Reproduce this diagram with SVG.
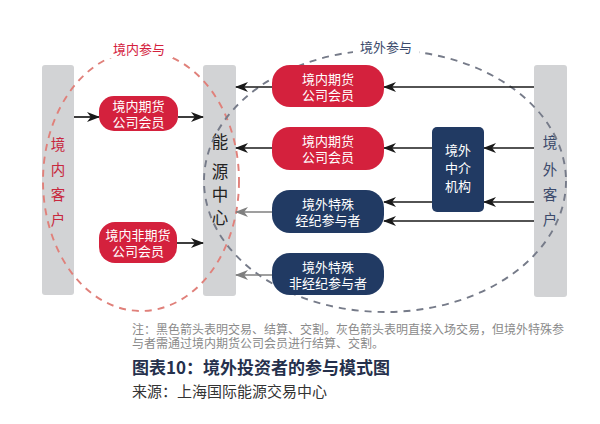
<svg xmlns="http://www.w3.org/2000/svg" width="600" height="424" viewBox="0 0 600 424">
<style>
text{font-family:"Noto Sans CJK SC","Noto Sans",sans-serif}
.bar{fill:#d2d3d5}
.red{fill:#d4213d}
.navy{fill:#213a63}
.nt{fill:#fff;font-size:13px;text-anchor:middle}
.blk{stroke:#1a1a1a;stroke-width:1.7;fill:none;marker-end:url(#ab)}
.gry{stroke:#7f7f7f;stroke-width:1.7;fill:none;marker-end:url(#ag)}
</style>
<defs>
<marker id="ab" markerUnits="userSpaceOnUse" markerWidth="13" markerHeight="11" viewBox="0 0 13 11" refX="12" refY="5.5" orient="auto"><path d="M0,0.5 L13,5.5 L0,10.5 L3.8,5.5 z" fill="#1a1a1a"/></marker>
<marker id="ag" markerUnits="userSpaceOnUse" markerWidth="13" markerHeight="11" viewBox="0 0 13 11" refX="12" refY="5.5" orient="auto"><path d="M0,0.5 L13,5.5 L0,10.5 L3.8,5.5 z" fill="#7f7f7f"/></marker>
</defs>
<rect width="600" height="424" fill="#fff"/>

<g id="bars">
<g id="domestic-client"><rect class="bar" x="42" y="65" width="32" height="230" rx="3"/>
<text x="58" y="150" font-size="14.5" fill="#c8283e" text-anchor="middle">境</text>
<text x="58" y="175" font-size="14.5" fill="#c8283e" text-anchor="middle">内</text>
<text x="58" y="200" font-size="14.5" fill="#c8283e" text-anchor="middle">客</text>
<text x="58" y="225" font-size="14.5" fill="#c8283e" text-anchor="middle">户</text></g>
<g id="ine"><rect class="bar" x="203" y="65" width="33" height="231" rx="3"/>
<text x="220" y="148" font-size="16.5" fill="#222" text-anchor="middle">能</text>
<text x="220" y="178" font-size="16.5" fill="#222" text-anchor="middle">源</text>
<text x="220" y="201" font-size="16.5" fill="#222" text-anchor="middle">中</text>
<text x="220" y="224" font-size="16.5" fill="#222" text-anchor="middle">心</text></g>
<g id="foreign-client"><rect class="bar" x="534" y="65" width="33" height="232" rx="3"/>
<text x="550" y="148" font-size="14.5" fill="#3b4a6b" text-anchor="middle">境</text>
<text x="550" y="175" font-size="14.5" fill="#3b4a6b" text-anchor="middle">外</text>
<text x="550" y="200" font-size="14.5" fill="#3b4a6b" text-anchor="middle">客</text>
<text x="550" y="225" font-size="14.5" fill="#3b4a6b" text-anchor="middle">户</text></g>
</g>

<g id="regions">
<ellipse cx="141" cy="181" rx="98" ry="130" fill="none" stroke="#e0807a" stroke-width="1.9" stroke-dasharray="7,6"/>
<ellipse cx="385" cy="181" rx="181" ry="131" fill="none" stroke="#767b89" stroke-width="1.9" stroke-dasharray="7,6"/>
<rect x="105" y="40" width="68" height="18" fill="#fff"/>
<text x="139" y="54" font-size="13" fill="#d4213d" text-anchor="middle">境内参与</text>
<rect x="353" y="38" width="66" height="18" fill="#fff"/>
<text x="386" y="52" font-size="13" fill="#3b4a6b" text-anchor="middle">境外参与</text>
</g>

<g id="connectors">
<line class="blk" x1="74" y1="117" x2="99" y2="117"/>
<line class="blk" x1="178" y1="117" x2="203" y2="117"/>
<line class="blk" x1="177" y1="243" x2="203" y2="243"/>
<line class="blk" x1="534" y1="87" x2="384" y2="87"/>
<line class="blk" x1="272" y1="87" x2="236" y2="87"/>
<line class="blk" x1="534" y1="148" x2="484" y2="148"/>
<line class="blk" x1="432" y1="148" x2="384" y2="148"/>
<line class="blk" x1="272" y1="148" x2="236" y2="148"/>
<line class="blk" x1="534" y1="202" x2="484" y2="202"/>
<line class="blk" x1="432" y1="202" x2="384" y2="202"/>
<line class="blk" x1="534" y1="221" x2="384" y2="221"/>
<line class="gry" x1="272" y1="212" x2="236" y2="212"/>
<line class="gry" x1="272" y1="275" x2="236" y2="275"/>
</g>

<g id="n-dom-fcm"><rect class="red" x="99" y="96" width="79" height="35" rx="15"/>
<text class="nt" x="138.5" y="110.5">境内期货</text><text class="nt" x="138.5" y="127">公司会员</text></g>
<g id="n-dom-nonfcm"><rect class="red" x="99" y="222" width="78" height="41" rx="16"/>
<text class="nt" x="138" y="239.5">境内非期货</text><text class="nt" x="138" y="256">公司会员</text></g>
<g id="n-fcm1"><rect class="red" x="272" y="65" width="112" height="42" rx="18"/>
<text class="nt" x="328" y="83.5">境内期货</text><text class="nt" x="328" y="100">公司会员</text></g>
<g id="n-fcm2"><rect class="red" x="272" y="127" width="112" height="43" rx="18"/>
<text class="nt" x="328" y="145.5">境内期货</text><text class="nt" x="328" y="162">公司会员</text></g>
<g id="n-broker"><rect class="navy" x="272" y="190" width="112" height="43" rx="18"/>
<text class="nt" x="328" y="208.5">境外特殊</text><text class="nt" x="328" y="225">经纪参与者</text></g>
<g id="n-nonbroker"><rect class="navy" x="272" y="253" width="112" height="42" rx="18"/>
<text class="nt" x="328" y="271.5">境外特殊</text><text class="nt" x="328" y="288">非经纪参与者</text></g>
<g id="n-intermediary"><rect class="navy" x="432" y="127" width="52" height="85" rx="5"/>
<text class="nt" x="458" y="155">境外</text><text class="nt" x="458" y="173">中介</text><text class="nt" x="458" y="191">机构</text></g>

<g id="caption">
<text x="132" y="334" font-size="12" fill="#8a8a8a">注：黑色箭头表明交易、结算、交割。灰色箭头表明直接入场交易，但境外特殊参</text>
<text x="132" y="348" font-size="12" fill="#8a8a8a">与者需通过境内期货公司会员进行结算、交割。</text>
<text x="132" y="374" font-size="17" font-weight="bold" fill="#25304c">图表10：境外投资者的参与模式图</text>
<text x="132" y="397" font-size="15" fill="#333">来源：上海国际能源交易中心</text>
</g>
</svg>
